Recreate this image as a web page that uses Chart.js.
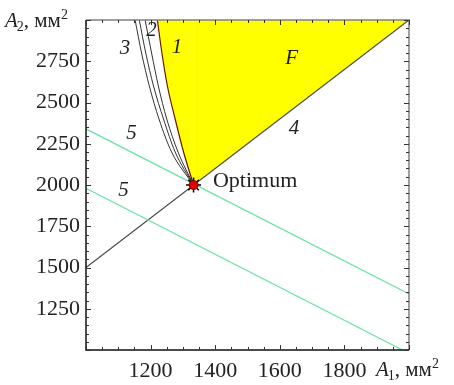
<!DOCTYPE html>
<html>
<head>
<meta charset="utf-8">
<script src="https://cdn.jsdelivr.net/npm/chart.js@4.4.1/dist/chart.umd.min.js"></script>
<style>
  html, body { margin: 0; padding: 0; background: #fff; }
  #wrap { width: 454px; height: 385px; }
</style>
</head>
<body>
<div id="wrap"><canvas id="chart"></canvas></div>
<script>
// A2 levels at which the constraint curves were sampled
const A2_LEVELS = [3000, 2800, 2600, 2400, 2200, 2000];
// constraint curves 1, 2, 3 (A1 at each level)
const curve1A1 = [1221, 1235, 1252, 1276, 1302, 1333];
const curve2A1 = [1183, 1203, 1224, 1250, 1285, 1333];
const curve3aA1 = [1165, 1185, 1209, 1240, 1276, 1333];
const curve3bA1 = [1152, 1172, 1196, 1226, 1265, 1333];

// line 4
const line4A1 = [1000, 2000];
const line4A2 = [1500, 3000];

// objective level lines 5
const level5UpperA1 = [1000, 2000];
const level5UpperA2 = [2340, 1340];
const level5LowerA1 = [1000, 1980];
const level5LowerA2 = [1980, 1000];

// optimum and the upper corner of region F
const optimum = { a1: 1333, a2: 2000 };
const cornerF = { a1: 2000, a2: 3000 };

// axis ticks
const xTickLabels = [1200, 1400, 1600, 1800];
const yTickLabels = [1250, 1500, 1750, 2000, 2250, 2500, 2750];

// text marks on the plot: [text, A1, A2]
const curveNotes = [
  ['1', 1282, 2836],
  ['2', 1203, 2939],
  ['3', 1121, 2828],
  ['F', 1637, 2768],
  ['4', 1644, 2345],
  ['5', 1141, 2313],
  ['5', 1116, 1968]
];

const pts = (xs, ys) => xs.map((v, i) => ({ x: v, y: ys[i] }));
const curvePts = xs => pts(xs, A2_LEVELS);

const SERIF = "'Liberation Serif', serif";

function drawParts(ctx, x, y, parts) {
  ctx.textAlign = 'left';
  ctx.textBaseline = 'alphabetic';
  parts.forEach(p => {
    ctx.font = p.font;
    ctx.fillText(p.text, x, y + (p.dy || 0));
    x += ctx.measureText(p.text).width + (p.gap || 0);
  });
}

const frameAndNotes = {
  id: 'frameAndNotes',
  afterDraw(chart) {
    const { ctx, chartArea: { left, right, top, bottom }, scales: { x, y } } = chart;
    ctx.save();

    // frame: dark axes left/bottom, grey edges top/right
    ctx.lineWidth = 1.5;
    ctx.strokeStyle = '#808080';
    ctx.beginPath();
    ctx.moveTo(left, top); ctx.lineTo(right, top); ctx.lineTo(right, bottom);
    ctx.stroke();
    ctx.strokeStyle = '#111';
    ctx.beginPath();
    ctx.moveTo(left, top); ctx.lineTo(left, bottom); ctx.lineTo(right, bottom);
    ctx.stroke();

    // inward ticks
    ctx.lineWidth = 1;
    ctx.strokeStyle = '#333';
    ctx.beginPath();
    for (let v = 1000; v <= 2000; v += 50) {
      const px = Math.round(x.getPixelForValue(v)) + 0.5;
      const len = v % 200 === 0 ? 5 : 3;
      ctx.moveTo(px, bottom); ctx.lineTo(px, bottom - len);
      ctx.moveTo(px, top); ctx.lineTo(px, top + len);
    }
    for (let v = 1000; v <= 3000; v += 50) {
      const py = Math.round(y.getPixelForValue(v)) + 0.5;
      const len = v % 250 === 0 ? 5 : 3;
      ctx.moveTo(left, py); ctx.lineTo(left + len, py);
      ctx.moveTo(right, py); ctx.lineTo(right - len, py);
    }
    ctx.stroke();

    // curve numbers and region name
    ctx.fillStyle = '#222';
    ctx.font = 'italic 21px ' + SERIF;
    ctx.textAlign = 'center';
    ctx.textBaseline = 'middle';
    curveNotes.forEach(([t, a1, a2]) => {
      ctx.fillText(t, x.getPixelForValue(a1), y.getPixelForValue(a2));
    });

    // optimum label
    ctx.font = '22px ' + SERIF;
    ctx.textAlign = 'left';
    ctx.textBaseline = 'alphabetic';
    ctx.fillText('Optimum', x.getPixelForValue(1393), y.getPixelForValue(1988));

    // axis titles
    const big = '21px ' + SERIF;
    const it = 'italic 21px ' + SERIF;
    const small = '14px ' + SERIF;
    drawParts(ctx, 5, 27, [
      { text: 'A', font: it, gap: -1 },
      { text: '2', font: small, dy: 4 },
      { text: ', мм', font: big },
      { text: '2', font: small, dy: -8 }
    ]);
    drawParts(ctx, 376, 376, [
      { text: 'A', font: it, gap: -1 },
      { text: '1', font: small, dy: 4 },
      { text: ', мм', font: big },
      { text: '2', font: small, dy: -8 }
    ]);

    ctx.restore();
  }
};

const line = (data, color, extra) => Object.assign({
  data, showLine: true, borderColor: color, borderWidth: 1,
  pointRadius: 0, fill: false, tension: 0
}, extra || {});

Chart.defaults.font.family = SERIF;

new Chart(document.getElementById('chart'), {
  type: 'scatter',
  data: {
    datasets: [
      // optimum marker: red dot over a black star
      { data: [{ x: optimum.a1, y: optimum.a2 }], pointStyle: 'circle', pointRadius: 4.5,
        backgroundColor: '#e00000', borderColor: '#700', borderWidth: 1, order: 0 },
      { data: [{ x: optimum.a1, y: optimum.a2 }], pointStyle: 'star', pointRadius: 7.5,
        backgroundColor: '#000', borderColor: '#000', borderWidth: 1.5, order: 1 },
      line(pts(level5UpperA1, level5UpperA2), '#6fe3a6', { borderWidth: 1.3, order: 2 }),
      line(pts(level5LowerA1, level5LowerA2), '#6fe3a6', { borderWidth: 1.3, order: 2 }),
      line(pts(line4A1, line4A2), '#4a4a4a', { borderWidth: 1.2, order: 3 }),
      line(curvePts(curve2A1), '#333', { tension: 0.35, cubicInterpolationMode: 'monotone', order: 4 }),
      line(curvePts(curve3aA1), '#333', { tension: 0.35, cubicInterpolationMode: 'monotone', order: 4 }),
      line(curvePts(curve3bA1), '#333', { tension: 0.35, cubicInterpolationMode: 'monotone', order: 4 }),
      // region F: area above curve 1 and above line 4
      line(curvePts(curve1A1), '#6b1a00', { tension: 0.35, cubicInterpolationMode: 'monotone',
        fill: 'end', backgroundColor: '#ffff00', borderWidth: 1.2, order: 5 }),
      line([{ x: optimum.a1, y: optimum.a2 }, { x: cornerF.a1, y: cornerF.a2 }], 'rgba(0,0,0,0)',
        { fill: 'end', backgroundColor: '#ffff00', borderWidth: 0, order: 6 })
    ]
  },
  options: {
    responsive: true,
    maintainAspectRatio: false,
    animation: false,
    layout: { padding: { top: 20, right: 45, left: 0, bottom: 0 } },
    plugins: {
      legend: { display: false },
      tooltip: { enabled: false }
    },
    scales: {
      x: {
        type: 'linear',
        min: 1000,
        max: 2000,
        afterFit: s => { s.height = 35; },
        afterBuildTicks: s => { s.ticks = xTickLabels.map(v => ({ value: v })); },
        grid: { display: false, drawTicks: false },
        border: { display: false },
        ticks: {
          padding: 8,
          color: '#222',
          maxRotation: 0,
          autoSkip: false,
          callback: v => String(v),
          font: { family: SERIF, size: 22 }
        }
      },
      y: {
        type: 'linear',
        min: 1000,
        max: 3000,
        afterFit: s => { s.width = 86; },
        afterBuildTicks: s => { s.ticks = yTickLabels.map(v => ({ value: v })); },
        grid: { display: false, drawTicks: false },
        border: { display: false },
        ticks: {
          padding: 6,
          color: '#222',
          autoSkip: false,
          callback: v => String(v),
          font: { family: SERIF, size: 22 }
        }
      }
    }
  },
  plugins: [frameAndNotes]
});
</script>
</body>
</html>
